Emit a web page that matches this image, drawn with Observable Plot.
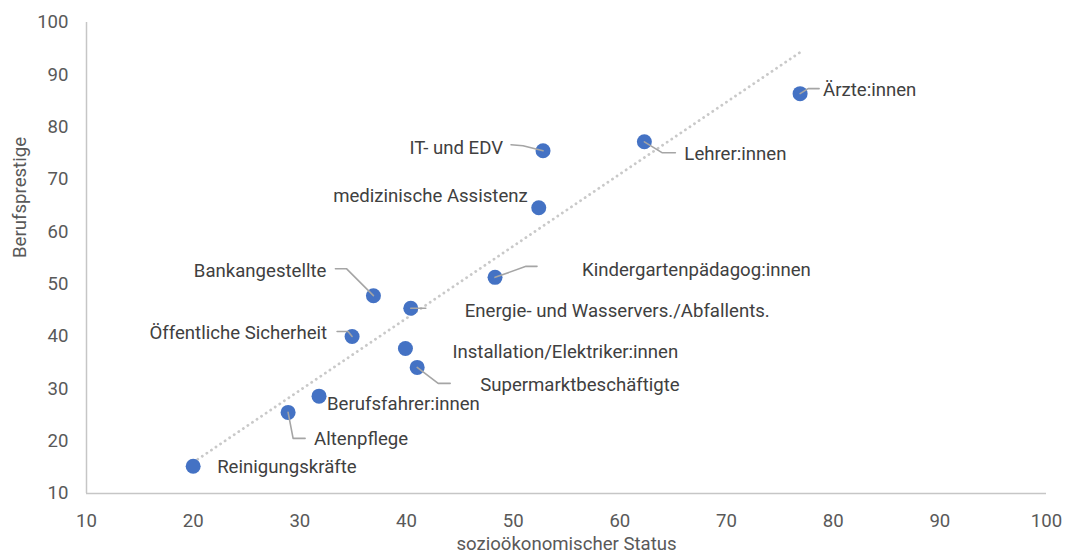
<!DOCTYPE html>
<html>
<head>
<meta charset="utf-8">
<script src="https://cdn.jsdelivr.net/npm/d3@7"></script>
<script src="https://cdn.jsdelivr.net/npm/@observablehq/plot@0.6"></script>
<style>
  html, body { margin: 0; padding: 0; background: #fff; }
  #chart svg { display: block; }
</style>
</head>
<body>
<div id="chart"></div>
<script>
// ---- data ----
const occupations = [
  "Reinigungskräfte", "Altenpflege", "Berufsfahrer:innen", "Öffentliche Sicherheit",
  "Bankangestellte", "Energie- und Wasservers./Abfallents.", "Installation/Elektriker:innen",
  "Supermarktbeschäftigte", "Kindergartenpädagog:innen", "medizinische Assistenz",
  "IT- und EDV", "Lehrer:innen", "Ärzte:innen"
];
const status   = [20.0, 28.9, 31.8, 34.9, 36.9, 40.4, 39.9, 41.0, 48.3, 52.4, 52.8, 62.3, 76.9];
const prestige = [15.2, 25.5, 28.6, 40.0, 47.8, 45.4, 37.7, 34.1, 51.3, 64.6, 75.5, 77.2, 86.4];
const xTicks = [10, 20, 30, 40, 50, 60, 70, 80, 90, 100];
const yTicks = [10, 20, 30, 40, 50, 60, 70, 80, 90, 100];
const xTitle = "sozioökonomischer Status";
const yTitle = "Berufsprestige";

// ---- label layout (pixel offsets from each point) ----
const labelAnchor = ["start","start","start","end","end","start","start","start","start","end","end","start","start"];
const labelOffset = [[24,1],[26,27],[8,8],[-25,-3],[-47,-25],[54,3],[47,4],[63,18],[87,-7],[-11,-12],[-40,-3],[40,12],[23,-4]];
const leaderPath = [
  [], [[0,0],[5,26],[17,26]], [], [[0,0],[-4,-5],[-15,-5]],
  [[0,0],[-27,-27],[-38,-27]], [[0,0],[15,0]], [], [[0,0],[21,16],[33,16]],
  [[0,0],[31,-11],[42,-11]], [], [[0,0],[-20,-5],[-32,-6]],
  [[0,0],[18,11],[31,11]], [[0,0],[8,-5],[19,-5]]
];

// ---- build ----
const W = 1069, H = 555;
const mL = 86, mR = 23, mT = 22, mB = 62;
const xDomain = [10, 100], yDomain = [10, 100];
const sx = Plot.scale({x: {type: "linear", domain: xDomain, range: [mL, W - mR]}});
const sy = Plot.scale({y: {type: "linear", domain: yDomain, range: [H - mB, mT]}});

const points = occupations.map((name, i) => ({name, x: status[i], y: prestige[i]}));
const labels = points.map((p, i) => ({
  name: p.name,
  anchor: labelAnchor[i],
  x: sx.invert(sx.apply(p.x) + labelOffset[i][0]),
  y: sy.invert(sy.apply(p.y) + labelOffset[i][1])
}));
const leaders = points.flatMap((p, i) => leaderPath[i].map(([ox, oy]) => ({
  name: p.name,
  x: sx.invert(sx.apply(p.x) + ox),
  y: sy.invert(sy.apply(p.y) + oy)
})));

const font = "Roboto, 'Noto Sans', sans-serif";
const fs = 18.6;

const chart = Plot.plot({
  width: W, height: H,
  marginLeft: mL, marginRight: mR, marginTop: mT, marginBottom: mB,
  style: {fontFamily: font, fontSize: fs + "px", background: "#fff"},
  x: {domain: xDomain},
  y: {domain: yDomain},
  marks: [
    Plot.axisX({ticks: xTicks, tickSize: 0, tickPadding: 20, label: null, fill: "#595959", fontSize: fs}),
    Plot.axisY({ticks: yTicks, tickSize: 0, tickPadding: 18, label: null, fill: "#595959", fontSize: fs}),
    Plot.ruleX([xDomain[0]], {stroke: "#c6c6c6", strokeWidth: 1.5}),
    Plot.ruleY([yDomain[0]], {stroke: "#c6c6c6", strokeWidth: 1.5}),
    Plot.linearRegressionY(points, {x: "x", y: "y", ci: 0, stroke: "#c9c9c9", strokeWidth: 2.8,
      strokeDasharray: "0.1 5.4", strokeLinecap: "round"}),
    Plot.dot(points, {x: "x", y: "y", r: 7.5, fill: "#4472C4", stroke: "none"}),
    Plot.line(leaders, {x: "x", y: "y", z: "name", stroke: "#a5a5a5", strokeWidth: 1.6, curve: "linear"}),
    Plot.text(labels.filter(d => d.anchor === "start"), {x: "x", y: "y", text: "name", textAnchor: "start", fill: "#404040", fontSize: fs}),
    Plot.text(labels.filter(d => d.anchor === "end"), {x: "x", y: "y", text: "name", textAnchor: "end", fill: "#404040", fontSize: fs}),
    Plot.text([xTitle], {frameAnchor: "bottom", dy: 56, fill: "#595959", fontSize: fs}),
    Plot.text([yTitle], {frameAnchor: "left", dx: -66, rotate: -90, fill: "#595959", fontSize: fs})
  ]
});
document.getElementById("chart").appendChild(chart);
</script>
</body>
</html>
